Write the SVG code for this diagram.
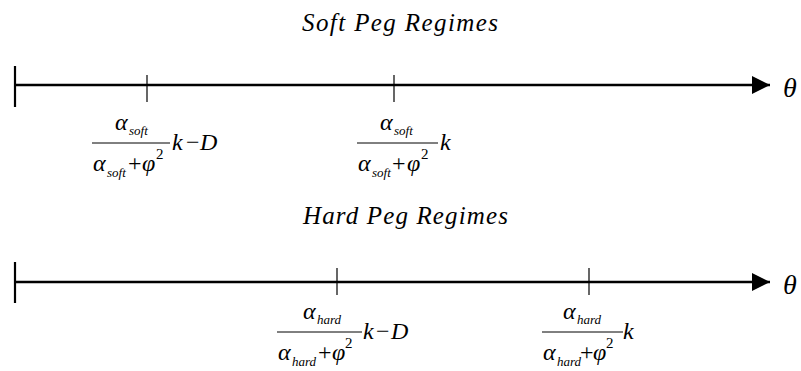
<svg xmlns="http://www.w3.org/2000/svg" width="801" height="371" viewBox="0 0 801 371">
<style>
.title{font-family:"Liberation Serif",serif;font-style:italic;font-size:25px;fill:#000}
.m{font-family:"Liberation Serif",serif;font-style:italic;font-size:24px;fill:#000}
.r{font-family:"Liberation Serif",serif;font-style:normal;font-size:24px;fill:#000}
.s{font-family:"Liberation Serif",serif;font-style:italic;font-size:13px;fill:#000}
.sup{font-family:"Liberation Serif",serif;font-style:normal;font-size:15px;fill:#000}
.th{font-family:"Liberation Serif",serif;font-style:italic;font-size:28px;fill:#000}
.axis{stroke:#000;stroke-width:2.5;fill:none}
.bar{stroke:#000;stroke-width:2.2;fill:none}
.tick{stroke:#000;stroke-width:1.2;fill:none}
.frac{stroke:#000;stroke-width:1;fill:none}
</style>
<defs>
<marker id="ah" markerUnits="userSpaceOnUse" markerWidth="20" markerHeight="18" refX="18" refY="9" orient="auto">
<path d="M0,0 L18,9 L0,18 Z" fill="#000"/>
</marker>
</defs>
<rect width="801" height="371" fill="#fff"/>

<g id="soft">
<text class="title" x="302" y="31" textLength="196" lengthAdjust="spacing">Soft Peg Regimes</text>
<g id="soft-axis">
<line class="axis" x1="15" y1="85" x2="770" y2="85" marker-end="url(#ah)"/>
<line class="bar" x1="15" y1="66" x2="15" y2="107"/>
<line class="tick" x1="147" y1="75" x2="147" y2="102"/>
<line class="tick" x1="394" y1="75" x2="394" y2="102"/>
<text class="th" x="783" y="97">θ</text>
</g>
<g id="soft-label-1">
<text class="m" x="115" y="130">α</text><text class="s" x="129" y="135">soft</text>
<line class="frac" x1="92" y1="143" x2="170" y2="143"/>
<text class="m" x="93" y="171">α</text><text class="s" x="107" y="177">soft</text>
<text class="r" x="128" y="171">+</text><text class="m" x="142" y="171">φ</text><text class="sup" x="156" y="159">2</text>
<text class="m" x="172" y="150">k</text><text class="r" x="186" y="150">−</text><text class="m" x="200" y="150">D</text>
</g>
<g id="soft-label-2">
<text class="m" x="380" y="130">α</text><text class="s" x="394" y="135">soft</text>
<line class="frac" x1="357" y1="143" x2="438" y2="143"/>
<text class="m" x="358" y="171">α</text><text class="s" x="372" y="177">soft</text>
<text class="r" x="392" y="171">+</text><text class="m" x="407" y="171">φ</text><text class="sup" x="421" y="159">2</text>
<text class="m" x="440" y="150">k</text>
</g>
</g>

<g id="hard">
<text class="title" x="303" y="224" textLength="205" lengthAdjust="spacing">Hard Peg Regimes</text>
<g id="hard-axis">
<line class="axis" x1="15" y1="282" x2="770" y2="282" marker-end="url(#ah)"/>
<line class="bar" x1="15" y1="262" x2="15" y2="303"/>
<line class="tick" x1="337" y1="268" x2="337" y2="295"/>
<line class="tick" x1="589" y1="268" x2="589" y2="295"/>
<text class="th" x="783" y="294">θ</text>
</g>
<g id="hard-label-1">
<text class="m" x="303" y="319">α</text><text class="s" x="317" y="324">hard</text>
<line class="frac" x1="277" y1="332" x2="362" y2="332"/>
<text class="m" x="278" y="360">α</text><text class="s" x="292" y="366">hard</text>
<text class="r" x="318" y="360">+</text><text class="m" x="332" y="360">φ</text><text class="sup" x="345" y="348">2</text>
<text class="m" x="363" y="339">k</text><text class="r" x="376" y="339">−</text><text class="m" x="391" y="339">D</text>
</g>
<g id="hard-label-2">
<text class="m" x="563" y="319">α</text><text class="s" x="577" y="324">hard</text>
<line class="frac" x1="542" y1="332" x2="623" y2="332"/>
<text class="m" x="543" y="360">α</text><text class="s" x="557" y="366">hard</text>
<text class="r" x="580" y="360">+</text><text class="m" x="593" y="360">φ</text><text class="sup" x="606" y="348">2</text>
<text class="m" x="623" y="339">k</text>
</g>
</g>
</svg>
